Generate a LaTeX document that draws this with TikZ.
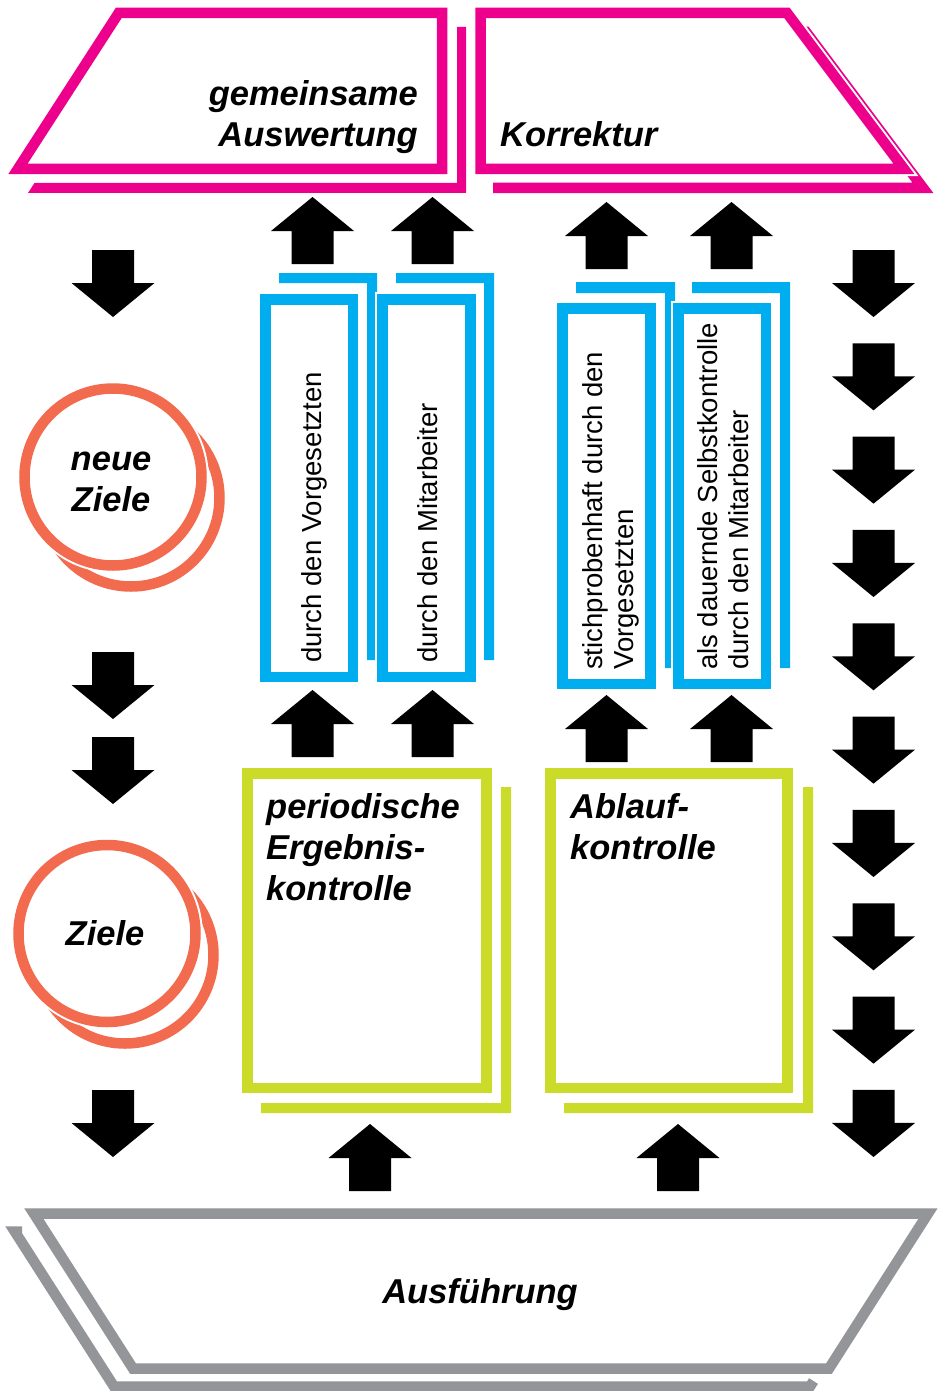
\documentclass[tikz,border=0pt]{standalone}
\usepackage{fontspec}
\setmainfont{Liberation Sans}
\definecolor{mag}{HTML}{EC008C}
\definecolor{cyanblue}{HTML}{00AEEF}
\definecolor{lime}{HTML}{CBDB2A}
\definecolor{coral}{HTML}{F26B4F}
\definecolor{greyline}{HTML}{939598}
\begin{document}
\begin{tikzpicture}[x=1pt, y=-1pt, line join=miter,
  frame/.style={fill=white, line width=10.5pt, preaction={draw=white, line width=14.5pt}},
  shadowline/.style={line width=10.5pt},
  label/.style={font=\fontsize{34.5}{41}\selectfont\bfseries\itshape, inner sep=0pt},
  side/.style={font=\fontsize{27.5}{31}\selectfont, inner sep=0pt, rotate=90},
  downarrow/.pic={\fill (-21,0) -- (21,0) -- (21,33) -- (41.5,33) -- (0,67) -- (-41.5,33) -- (-21,33) -- cycle;},
  uparrow/.pic={\fill (-21,0) -- (21,0) -- (21,-33) -- (41.5,-33) -- (0,-67) -- (-41.5,-33) -- (-21,-33) -- cycle;}
]
\useasboundingbox[fill=white] (0,0) rectangle (937,1391);

% --- top trapezoids (magenta) ---
\fill[mag] (457,27) -- (466,27) -- (466,193) -- (28,193) -- (34.5,183) -- (457,183) -- cycle;
\draw[frame, draw=mag] (118.7,13) -- (442,13) -- (442,169) -- (17.9,169) -- cycle;
\draw[shadowline, mag] (493,188) -- (923,188) -- (806,32) -- (700,32);
\draw[frame, draw=mag] (480.5,13) -- (787,13) -- (904,169) -- (480.5,169) -- cycle;

% --- blue columns ---
\fill[cyanblue] (279,273) -- (377,273) -- (377,660) -- (367,660) -- (367,283) -- (279,283) -- cycle;
\draw[frame, draw=cyanblue] (265.5,299.5) rectangle (353,677);
\fill[cyanblue] (396,273) -- (494,273) -- (494,660) -- (484,660) -- (484,283) -- (396,283) -- cycle;
\draw[frame, draw=cyanblue] (382.5,299.5) rectangle (470.5,677);
\fill[cyanblue] (576,282) -- (675,282) -- (675,668) -- (665,668) -- (665,293) -- (576,293) -- cycle;
\draw[frame, draw=cyanblue] (562.5,308.5) rectangle (650.5,684);
\fill[cyanblue] (692,282) -- (790,282) -- (790,668) -- (780,668) -- (780,293) -- (692,293) -- cycle;
\draw[frame, draw=cyanblue] (678.5,308.5) rectangle (766,684);

% --- green boxes ---
\fill[lime] (501,787) -- (511,787) -- (511,1113) -- (261,1113) -- (261,1103) -- (501,1103) -- cycle;
\draw[frame, draw=lime] (247.5,773.5) rectangle (486.5,1088);
\fill[lime] (803,787) -- (813,787) -- (813,1113) -- (564,1113) -- (564,1103) -- (803,1103) -- cycle;
\draw[frame, draw=lime] (550.5,773.5) rectangle (787.5,1088);

% --- circles ---
\draw[shadowline, coral] (131,498) circle[radius=88.5pt];
\draw[frame, draw=coral] (113,477) circle[radius=88.5pt];
\draw[shadowline, coral] (125,955) circle[radius=88.5pt];
\draw[frame, draw=coral] (107,933.5) circle[radius=88.5pt];

% --- bottom trapezoid (grey) ---
\draw[shadowline, greyline] (22,1231.5) -- (14.8,1231.5) -- (114,1386.5) -- (810,1386.5) -- (813.5,1381);
\draw[frame, draw=greyline] (33.8,1213.5) -- (928,1213.5) -- (829,1368.5) -- (133,1368.5) -- cycle;

% --- block arrows ---
\foreach \yy in {250,652,737,1090} \pic at (113,\yy) {downarrow};
\foreach \k in {0,...,9} \pic at (873.5,250+93.33*\k) {downarrow};
\pic at (312.5,264) {uparrow};
\pic at (432.5,264) {uparrow};
\pic at (606.5,269) {uparrow};
\pic at (731.5,269) {uparrow};
\pic at (312.5,757) {uparrow};
\pic at (432.5,757) {uparrow};
\pic at (606.5,762) {uparrow};
\pic at (731.5,762) {uparrow};
\pic at (370,1191) {uparrow};
\pic at (678,1191) {uparrow};

% --- labels (base anchor of a multi-line node = last line) ---
\node[label, anchor=base east, align=right] (ausw) at (418,147) {gemeinsame\\Auswertung};
\node[label, anchor=base west] (korr) at (500,147) {Korrektur};
\node[label, anchor=base, align=center] (neue) at (111,511) {neue\\Ziele};
\node[label, anchor=base] (ziele) at (105,945) {Ziele};
\node[label, anchor=base west, align=left] (perk) at (266,900) {periodische\\Ergebnis-\\kontrolle};
\node[label, anchor=base west, align=left] (abk) at (570,859) {Ablauf-\\kontrolle};
\node[label, anchor=base] (ausf) at (480,1303) {Ausführung};

\node[side, anchor=base west] (vg1) at (321,663) {durch den Vorgesetzten};
\node[side, anchor=base west] (mb1) at (437,663) {durch den Mitarbeiter};
\node[side, anchor=base west, align=left] (vg2) at (633,670) {stichprobenhaft durch den\\Vorgesetzten};
\node[side, anchor=base west, align=left] (mb2) at (748,670) {als dauernde Selbstkontrolle\\durch den Mitarbeiter};
\end{tikzpicture}
\end{document}
